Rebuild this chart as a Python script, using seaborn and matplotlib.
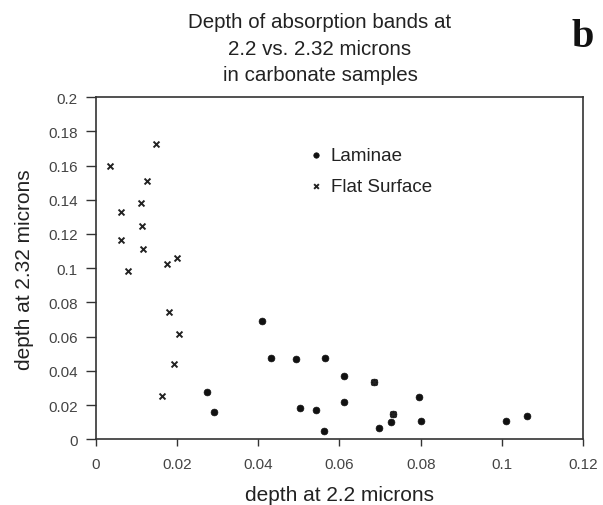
import matplotlib
matplotlib.use("Agg")
import matplotlib.pyplot as plt
import seaborn as sns
import pandas as pd

# Data
laminae_x = [0.0273, 0.0292, 0.0409, 0.0431, 0.0493, 0.0565, 0.0611, 0.0685,
             0.0503, 0.0542, 0.0611, 0.0561, 0.0698, 0.0726, 0.0733,
             0.0795, 0.0800, 0.1011, 0.1062]
laminae_y = [0.0277, 0.0160, 0.0690, 0.0476, 0.0468, 0.0476, 0.0372, 0.0333,
             0.0181, 0.0168, 0.0218, 0.0049, 0.0064, 0.0101, 0.0146,
             0.0248, 0.0107, 0.0107, 0.0138]

flat_x = [0.0149, 0.0035, 0.0125, 0.0110, 0.0061, 0.0114, 0.0061, 0.0116,
          0.0200, 0.0175, 0.0079, 0.0179, 0.0204, 0.0193, 0.0164, 0.0685, 0.0733]
flat_y = [0.1725, 0.1600, 0.1507, 0.1380, 0.1327, 0.1248, 0.1166, 0.1110,
          0.1062, 0.1023, 0.0981, 0.0745, 0.0618, 0.0442, 0.0250, 0.0333, 0.0146]

x_ticks = [0, 0.02, 0.04, 0.06, 0.08, 0.1, 0.12]
x_tick_labels = ["0", "0.02", "0.04", "0.06", "0.08", "0.1", "0.12"]
y_ticks = [0, 0.02, 0.04, 0.06, 0.08, 0.1, 0.12, 0.14, 0.16, 0.18, 0.2]
y_tick_labels = ["0", "0.02", "0.04", "0.06", "0.08", "0.1", "0.12", "0.14",
                 "0.16", "0.18", "0.2"]

lam = pd.DataFrame({"x": laminae_x, "y": laminae_y})
flat = pd.DataFrame({"x": flat_x, "y": flat_y})

sns.set_theme(style="white")
plt.rcParams["font.family"] = ["Liberation Sans", "DejaVu Sans"]

fig = plt.figure(figsize=(6.03, 5.06), dpi=100)
ax = fig.add_axes([0.159, 0.130, 0.808, 0.676])

sns.scatterplot(data=lam, x="x", y="y", ax=ax, marker="o", s=24,
                color="#111111", edgecolor="#111111", linewidth=0.5,
                label="Laminae", zorder=3)
sns.scatterplot(data=flat, x="x", y="y", ax=ax, marker="x", s=18,
                color="#222222", linewidth=1.4, label="Flat Surface", zorder=4)

ax.set_xlim(0, 0.12)
ax.set_ylim(0, 0.2)
ax.set_xticks(x_ticks)
ax.set_xticklabels(x_tick_labels)
ax.set_yticks(y_ticks)
ax.set_yticklabels(y_tick_labels)
ax.tick_params(axis="x", direction="out", length=5, width=1,
               color="#333333", labelsize=11, labelcolor="#444444",
               bottom=True, pad=8)
ax.tick_params(axis="y", direction="out", length=7, width=1,
               color="#333333", labelsize=11, labelcolor="#444444",
               left=True, pad=6)
for sp in ax.spines.values():
    sp.set_visible(True)
    sp.set_color("#333333")
    sp.set_linewidth(1.2)

ax.set_xlabel("depth at 2.2 microns", fontsize=15, color="#222222", labelpad=10)
ax.set_ylabel("depth at 2.32 microns", fontsize=15, color="#222222", labelpad=10)
ax.set_title("Depth of absorption bands at\n2.2 vs. 2.32 microns\nin carbonate samples",
             fontsize=14.8, color="#222222", pad=12, linespacing=1.5, x=0.46)

leg = ax.legend(loc="upper left", bbox_to_anchor=(0.394, 0.905), frameon=False,
                fontsize=13.5, labelspacing=0.75, handletextpad=0.2,
                handlelength=1.2, markerscale=0.8)
for t in leg.get_texts():
    t.set_color("#222222")

fig.text(0.967, 0.925, "b", fontsize=29, fontweight="bold",
         family=["Liberation Serif", "DejaVu Serif"], ha="center", va="center",
         color="#111111")

fig.savefig("out.png", dpi=100)
